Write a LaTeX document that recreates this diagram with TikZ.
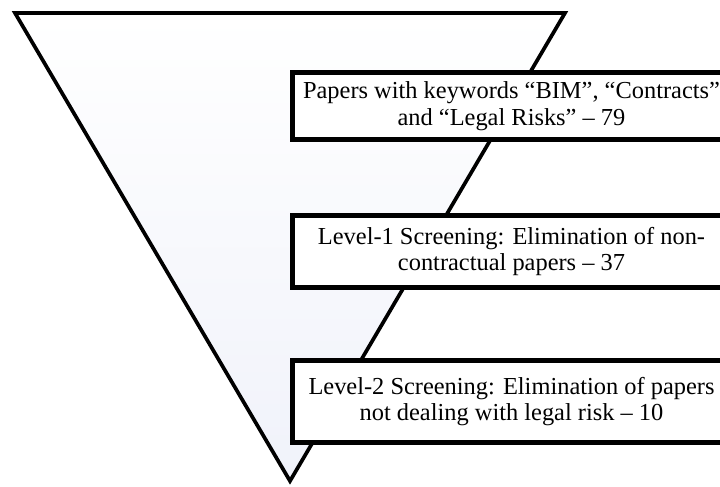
\documentclass[tikz,border=0pt]{standalone}
\usepackage{fontspec}
\setmainfont{Liberation Serif}
\definecolor{funnelblue}{RGB}{240,242,250}
\begin{document}
\begin{tikzpicture}[x=1bp,y=-1bp,
  funnel/.style={draw=black, line width=3.7bp, line join=miter,
    top color=white, bottom color=funnelblue},
  stagebox/.style={draw=black, line width=5bp, fill=white,
    anchor=north west, minimum width=438bp, inner sep=0pt,
    align=center, font=\fontsize{24.5}{27}\selectfont}]
\useasboundingbox (0,0) rectangle (720,487);
\begin{scope}
  \clip (0,0) rectangle (720,487);
  % screening funnel
  \coordinate (tl) at (15,13);
  \coordinate (tr) at (565,13);
  \coordinate (tip) at (290,481);
  \draw[funnel] (tl) -- (tr) -- (tip) -- cycle;
  % stages of the literature search
  \node[stagebox, minimum height=67bp] (s1) at (290,70)
    {Papers with keywords “BIM”, “Contracts”\\and “Legal Risks” – 79};
  \node[stagebox, minimum height=72bp] (s2) at (290,213)
    {Level-1 Screening: Elimination of non-\\contractual papers – 37};
  \node[stagebox, minimum height=82bp] (s3) at (290,358)
    {Level-2 Screening: Elimination of papers\\not dealing with legal risk – 10};
\end{scope}
\end{tikzpicture}
\end{document}
